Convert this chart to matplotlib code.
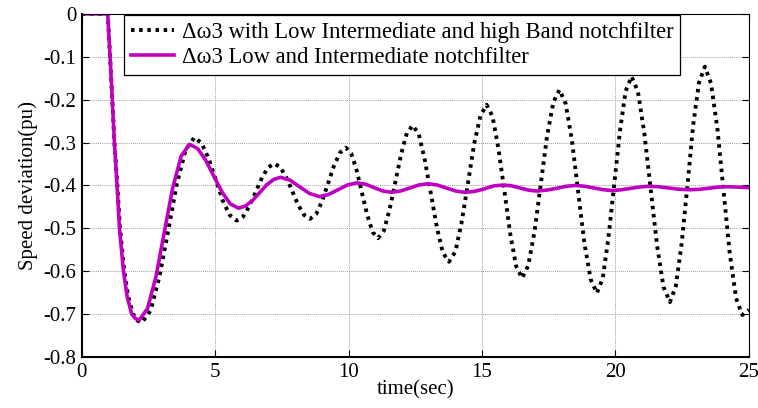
import matplotlib
matplotlib.use("Agg")
import matplotlib.pyplot as plt

plt.rcParams['font.family'] = ['Liberation Serif', 'DejaVu Serif']

# black dotted curve: with low, intermediate and high band notch filter
t_black = [0.0, 0.5, 0.97, 1.1, 1.22, 1.33, 1.43, 1.59, 1.74, 1.92, 2.08, 2.25,
           2.58, 2.91, 3.24, 3.56, 3.89, 4.22,
           4.48, 4.75, 5.01, 5.27, 5.54, 5.80,
           6.04, 6.27, 6.51, 6.75, 6.98, 7.22,
           7.44, 7.66, 7.89, 8.11, 8.33, 8.55,
           8.78, 9.0, 9.23, 9.45, 9.68, 9.9,
           10.1, 10.3, 10.5, 10.7, 10.9, 11.1,
           11.32, 11.53, 11.75, 11.97, 12.18, 12.4,
           12.63, 12.85, 13.08, 13.31, 13.53, 13.76,
           14.0, 14.23, 14.47, 14.7, 14.94, 15.17,
           15.39, 15.61, 15.84, 16.06, 16.28, 16.5,
           16.73, 16.97, 17.2, 17.43, 17.67, 17.9,
           18.13, 18.37, 18.6, 18.83, 19.07, 19.3,
           19.52, 19.73, 19.95, 20.17, 20.38, 20.6,
           20.84, 21.08, 21.32, 21.56, 21.8, 22.04,
           22.26, 22.48, 22.7, 22.91, 23.13, 23.35,
           23.58, 23.82, 24.05, 24.28, 24.52, 24.75, 25.0]
v_black = [0.0, 0.0, 0.0, -0.15, -0.3, -0.4, -0.5, -0.6, -0.66, -0.7, -0.715, -0.72,
           -0.691, -0.612, -0.504, -0.396, -0.317, -0.288,
           -0.301, -0.337, -0.385, -0.434, -0.469, -0.482,
           -0.473, -0.449, -0.416, -0.382, -0.358, -0.349,
           -0.358, -0.381, -0.414, -0.446, -0.469, -0.478,
           -0.467, -0.437, -0.395, -0.354, -0.323, -0.312,
           -0.326, -0.365, -0.418, -0.470, -0.509, -0.523,
           -0.505, -0.457, -0.392, -0.326, -0.278, -0.26,
           -0.281, -0.340, -0.419, -0.499, -0.557, -0.578,
           -0.554, -0.487, -0.395, -0.304, -0.237, -0.212,
           -0.239, -0.313, -0.414, -0.515, -0.589, -0.616,
           -0.587, -0.506, -0.397, -0.287, -0.206, -0.177,
           -0.209, -0.296, -0.414, -0.533, -0.619, -0.651,
           -0.617, -0.525, -0.399, -0.272, -0.180, -0.146,
           -0.181, -0.278, -0.409, -0.541, -0.637, -0.672,
           -0.635, -0.535, -0.398, -0.260, -0.160, -0.123,
           -0.162, -0.268, -0.413, -0.557, -0.663, -0.702, -0.69]

# magenta curve: low and intermediate notch filter
t_mag = [0.0, 0.5, 0.97, 1.1, 1.22, 1.32, 1.41, 1.56, 1.7, 1.87, 2.0, 2.15,
         2.46, 2.78, 3.09, 3.40, 3.72, 4.03,
         4.34, 4.64, 4.95, 5.26, 5.56, 5.87,
         6.13, 6.4, 6.66, 6.92, 7.19, 7.45,
         7.81, 8.18, 8.54, 8.9,
         9.25, 9.6, 9.95, 10.3,
         10.63, 10.95, 11.28, 11.6,
         11.94, 12.29, 12.63, 12.97,
         13.32, 13.66, 14.01, 14.35,
         14.71, 15.08, 15.44, 15.8,
         16.11, 16.43, 16.74, 17.05,
         17.41, 17.78, 18.14, 18.5,
         18.85, 19.2, 19.55, 19.9,
         20.23, 20.55, 20.88, 21.2,
         21.6, 22.0, 22.4, 22.8,
         23.15, 23.5, 23.85, 24.2,
         24.6, 25.0]
v_mag = [0.0, 0.0, 0.0, -0.15, -0.3, -0.4, -0.5, -0.6, -0.66, -0.7, -0.71, -0.714,
         -0.687, -0.612, -0.509, -0.407, -0.332, -0.304,
         -0.314, -0.341, -0.379, -0.416, -0.443, -0.453,
         -0.448, -0.435, -0.417, -0.399, -0.386, -0.381,
         -0.388, -0.404, -0.419, -0.426,
         -0.421, -0.41, -0.399, -0.394,
         -0.397, -0.405, -0.413, -0.416,
         -0.413, -0.406, -0.399, -0.396,
         -0.399, -0.406, -0.413, -0.416,
         -0.414, -0.408, -0.401, -0.399,
         -0.401, -0.406, -0.411, -0.413,
         -0.411, -0.407, -0.402, -0.4,
         -0.402, -0.406, -0.41, -0.412,
         -0.41, -0.407, -0.404, -0.402,
         -0.403, -0.406, -0.409, -0.41,
         -0.409, -0.4065, -0.404, -0.403,
         -0.404, -0.405]

labels = [u'\u0394\u03c93 with Low Intermediate and high Band notchfilter',
          u'\u0394\u03c93 Low and Intermediate notchfilter']
x_ticks = [0, 5, 10, 15, 20, 25]
y_ticks = [0, -0.1, -0.2, -0.3, -0.4, -0.5, -0.6, -0.7, -0.8]
y_ticklabels = ['0', '-0.1', '-0.2', '-0.3', '-0.4', '-0.5', '-0.6', '-0.7', '-0.8']

fig = plt.figure(figsize=(7.58, 4.08), dpi=100)
ax = fig.add_axes([0.108, 0.125, 0.880, 0.841])

ax.plot(t_black, v_black, color='black', lw=2.8, linestyle=(0, (0.9, 1.2)),
        label=labels[0])
ax.plot(t_mag, v_mag, color='#c000c0', lw=2.6, label=labels[1])

ax.set_xlim(0, 25)
ax.set_ylim(-0.8, 0)
ax.set_xticks(x_ticks)
ax.set_yticks(y_ticks)
ax.set_yticklabels(y_ticklabels)
ax.tick_params(direction='in', top=True, right=True, length=5, width=0.8,
               labelsize=15, pad=4)
ax.grid(True, color='#a0a0a0', linestyle=(0, (1, 1)), lw=0.7)
for side in ['top', 'right']:
    ax.spines[side].set_linewidth(0.8)
for side in ['left', 'bottom']:
    ax.spines[side].set_linewidth(1.5)

ax.set_xlabel('time(sec)', fontsize=15, labelpad=-1)
ax.set_ylabel('Speed deviation(pu)', fontsize=15, labelpad=4)

leg = ax.legend(loc='upper left', bbox_to_anchor=(0.063, 0.997), borderaxespad=0,
                fontsize=16.3, fancybox=False, framealpha=1, edgecolor='black',
                handlelength=1.9, handletextpad=0.35, borderpad=0.3,
                labelspacing=0.2)
leg.get_frame().set_linewidth(0.9)

fig.savefig('out.png', dpi=100)
